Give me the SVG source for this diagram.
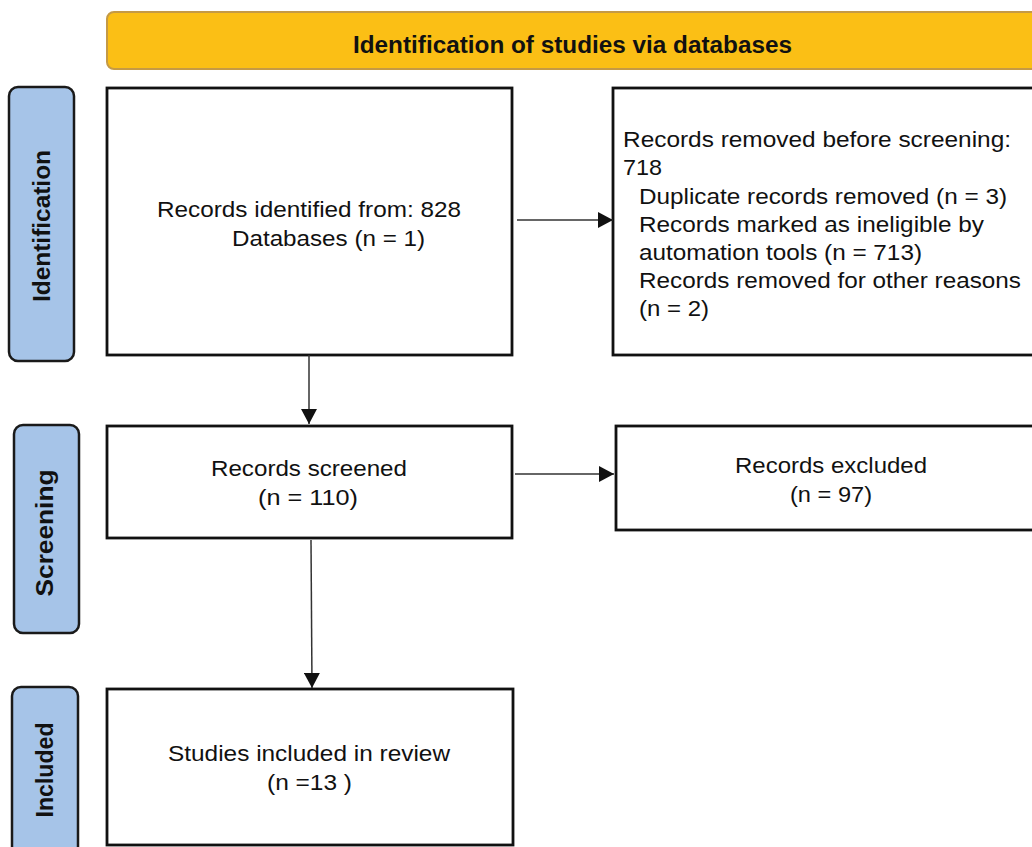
<svg xmlns="http://www.w3.org/2000/svg" width="1032" height="847" viewBox="0 0 1032 847">
  <defs>
    <style>
      .box { fill: #ffffff; stroke: #111111; stroke-width: 2.8; }
      .side { fill: #A6C4E8; stroke: #1a1a1a; stroke-width: 2.5; }
      .hdr { fill: #FBBF15; stroke: #C59A45; stroke-width: 2; }
      .t { font-family: "Liberation Sans", Arial, sans-serif; font-size: 22px; fill: #111111; }
      .tb { font-family: "Liberation Sans", Arial, sans-serif; font-size: 23px; font-weight: bold; fill: #111111; }
      .conn { stroke: #333333; stroke-width: 1.5; fill: none; }
    </style>
    <marker id="arrow" markerUnits="userSpaceOnUse" markerWidth="15" markerHeight="16" refX="15" refY="8" orient="auto">
      <path d="M0,0 L15,8 L0,16 Z" fill="#111111"/>
    </marker>
  </defs>
  <rect width="1032" height="847" fill="#ffffff"/>

  <g id="header">
    <rect class="hdr" x="107" y="12" width="945" height="57" rx="7"/>
    <text class="tb" x="353" y="53" textLength="439" lengthAdjust="spacingAndGlyphs">Identification of studies via databases</text>
  </g>

  <g id="phase-identification">
    <rect class="side" x="9" y="87" width="65" height="274" rx="9"/>
    <text class="tb" transform="translate(50,226) rotate(-90)" x="0" y="0" text-anchor="middle" textLength="152" lengthAdjust="spacingAndGlyphs">Identification</text>
  </g>

  <g id="phase-screening">
    <rect class="side" x="14" y="425" width="65" height="208" rx="9"/>
    <text class="tb" transform="translate(53,533) rotate(-90)" x="0" y="0" text-anchor="middle" textLength="127" lengthAdjust="spacingAndGlyphs">Screening</text>
  </g>

  <g id="phase-included">
    <rect class="side" x="12" y="687" width="66" height="180" rx="9"/>
    <text class="tb" transform="translate(53,770) rotate(-90)" x="0" y="0" text-anchor="middle" textLength="95" lengthAdjust="spacingAndGlyphs">Included</text>
  </g>

  <g id="records-identified">
    <rect class="box" x="107" y="88" width="405" height="267"/>
    <text class="t" x="157" y="217" textLength="304" lengthAdjust="spacingAndGlyphs">Records identified from: 828</text>
    <text class="t" x="232" y="246" textLength="193" lengthAdjust="spacingAndGlyphs">Databases (n = 1)</text>
  </g>

  <g id="records-removed">
    <rect class="box" x="613" y="88" width="440" height="267"/>
    <text class="t" x="623" y="147" textLength="388" lengthAdjust="spacingAndGlyphs">Records removed before screening:</text>
    <text class="t" x="623" y="175" textLength="39" lengthAdjust="spacingAndGlyphs">718</text>
    <text class="t" x="639" y="204" textLength="368" lengthAdjust="spacingAndGlyphs">Duplicate records removed (n = 3)</text>
    <text class="t" x="639" y="232" textLength="345" lengthAdjust="spacingAndGlyphs">Records marked as ineligible by</text>
    <text class="t" x="639" y="260" textLength="283" lengthAdjust="spacingAndGlyphs">automation tools (n = 713)</text>
    <text class="t" x="639" y="288" textLength="382" lengthAdjust="spacingAndGlyphs">Records removed for other reasons</text>
    <text class="t" x="639" y="316" textLength="70" lengthAdjust="spacingAndGlyphs">(n = 2)</text>
  </g>

  <g id="records-screened">
    <rect class="box" x="107" y="426" width="405" height="112"/>
    <text class="t" x="211" y="476" textLength="196" lengthAdjust="spacingAndGlyphs">Records screened</text>
    <text class="t" x="258" y="505" textLength="100" lengthAdjust="spacingAndGlyphs">(n = 110)</text>
  </g>

  <g id="records-excluded">
    <rect class="box" x="616" y="426" width="440" height="104"/>
    <text class="t" x="735" y="473" textLength="192" lengthAdjust="spacingAndGlyphs">Records excluded</text>
    <text class="t" x="790" y="502" textLength="82" lengthAdjust="spacingAndGlyphs">(n = 97)</text>
  </g>

  <g id="studies-included">
    <rect class="box" x="107" y="689" width="406" height="156"/>
    <text class="t" x="168" y="761" textLength="282" lengthAdjust="spacingAndGlyphs">Studies included in review</text>
    <text class="t" x="267" y="790" textLength="85" lengthAdjust="spacingAndGlyphs">(n =13 )</text>
  </g>

  <g id="connectors">
    <line class="conn" x1="517" y1="220" x2="613" y2="220" marker-end="url(#arrow)"/>
    <line class="conn" x1="309" y1="355" x2="309" y2="424" marker-end="url(#arrow)"/>
    <line class="conn" x1="515" y1="474" x2="614" y2="474" marker-end="url(#arrow)"/>
    <line class="conn" x1="311" y1="540" x2="312" y2="688" marker-end="url(#arrow)"/>
  </g>
</svg>
